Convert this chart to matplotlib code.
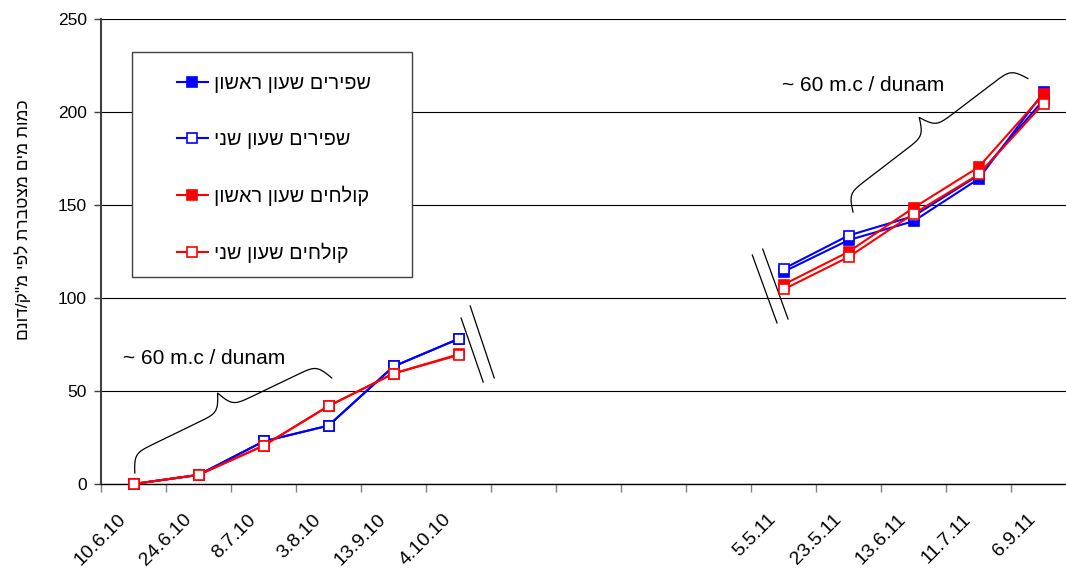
import numpy as np
import matplotlib
matplotlib.use("Agg")
import matplotlib.pyplot as plt
from matplotlib.patches import Rectangle
from matplotlib.lines import Line2D
from matplotlib.transforms import ScaledTranslation

plt.rcParams["font.family"] = ["Liberation Sans", "DejaVu Sans"]

nan = np.nan

# categories (empty slots = gap between the two seasons)
dates = ["10.6.10", "24.6.10", "8.7.10", "3.8.10", "13.9.10", "4.10.10",
         "", "", "", "",
         "5.5.11", "23.5.11", "13.6.11", "11.7.11", "6.9.11"]

# cumulative water, m.c / dunam
shapirim_1 = [0, 4.9, 22.9, 31.4, 63.2, 78.0, nan, nan, nan, nan,
              114.1, 131.1, 141.3, 164.0, 210.5]
shapirim_2 = [0, 4.9, 22.9, 31.4, 63.2, 78.0, nan, nan, nan, nan,
              115.7, 133.6, 144.0, 166.0, 206.5]
kolchim_1 = [0, 4.9, 20.6, 41.9, 59.4, 69.7, nan, nan, nan, nan,
             107.2, 124.8, 148.5, 170.3, 209.5]
kolchim_2 = [0, 4.9, 20.6, 41.9, 59.4, 69.3, nan, nan, nan, nan,
             104.6, 122.0, 145.3, 166.4, 204.5]

series_names = ["שפירים שעון ראשון", "שפירים שעון שני",
                "קולחים שעון ראשון", "קולחים שעון שני"]
ylabel = 'כמות מים מצטברת לפי מ"ק/דונם'
note = "~ 60 m.c / dunam"


def rtl(s):
    # matplotlib has no bidi support: give it the visual order
    return s[::-1]


def brace(ax, p0, p1, h=36, k=0.25, **kw):
    # curly brace between two data points, tip pointing to the upper-left
    a = ax.transData.transform(p0)
    b = ax.transData.transform(p1)
    d = b - a
    L = np.hypot(*d)
    d = d / L
    n = np.array([-d[1], d[0]])
    u = np.linspace(0, L / 2, 200)
    sig = lambda z: 1 / (1 + np.exp(-z))
    v = h * (sig(k * u) - 0.5 + sig(k * (u - L / 2)))
    u = np.concatenate([u, L - u[-2::-1]])
    v = np.concatenate([v, v[-2::-1]])
    pts = a + np.outer(u, d) + np.outer(v, n)
    pts = ax.transData.inverted().transform(pts)
    ax.plot(pts[:, 0], pts[:, 1], color="black", lw=0.9, zorder=4, **kw)


fig = plt.figure(figsize=(10.66, 5.68), dpi=100)
ax = fig.add_axes([101 / 1066, 84 / 568, 975 / 1066, 465 / 568])

x = np.arange(len(dates)) + 0.5
styles = [
    (shapirim_1, "#0000ff", "#0000ff"),
    (shapirim_2, "#0000ff", "white"),
    (kolchim_1, "#ff0000", "#ff0000"),
    (kolchim_2, "#ff0000", "white"),
]
handles = []
for (vals, col, face), name in zip(styles, series_names):
    ln, = ax.plot(x, vals, color=col, lw=1.5, marker="s", ms=6.5,
                  mfc=face, mec=col, mew=1.2, zorder=5, clip_on=False)
    handles.append(ln)

ax.set_xlim(0, len(dates))
ax.set_ylim(0, 250)
ax.set_yticks(np.arange(0, 251, 50))
ax.yaxis.grid(True, color="black", lw=0.8)
ax.set_axisbelow(True)

# tick marks on category boundaries, date labels under category centres
ax.set_xticks(np.arange(len(dates) + 1))
ax.set_xticklabels([])
lab_tr = ax.get_xaxis_transform() + ScaledTranslation(-10 / 100, -33 / 100,
                                                      fig.dpi_scale_trans)
for xi, lab in zip(x, dates):
    ax.text(xi, 0, lab, transform=lab_tr, fontsize=14, rotation=45,
            ha="right", va="center", rotation_mode="anchor")
ax.tick_params(axis="x", which="major", length=6, color="#808080", width=1)
ax.tick_params(axis="y", length=5, width=1, color="#404040", pad=5,
               labelsize=12.5)

for s in ["top", "right"]:
    ax.spines[s].set_visible(False)
ax.spines["left"].set_color("#404040")
ax.spines["left"].set_linewidth(1.5)
ax.spines["bottom"].set_color("black")
ax.spines["bottom"].set_linewidth(1)

fig.text(23 / 1066, 1 - 220 / 568, rtl(ylabel), rotation=90, ha="center",
         va="center", fontsize=12.5)

# annotations
ax.text(0.34, 67.7, note, fontsize=15, ha="left", va="center")
ax.text(10.48, 214.5, note, fontsize=15, ha="left", va="center")
brace(ax, (0.52, 5.9), (3.55, 57.0), h=36)
brace(ax, (11.57, 146.2), (14.26, 218.0), h=35)

# axis break marks
for (x0, y0), (x1, y1) in [((5.54, 89.2), (5.88, 54.8)),
                           ((5.68, 95.7), (6.05, 57.0)),
                           ((10.02, 123.1), (10.40, 86.6)),
                           ((10.18, 126.3), (10.57, 88.7))]:
    ax.add_line(Line2D([x0, x1], [y0, y1], color="black", lw=0.9,
                       zorder=4, clip_on=False))

# legend box
ax.add_patch(Rectangle((31 / 975, 207 / 465), 280 / 975, 225 / 465,
                       transform=ax.transAxes, facecolor="white",
                       edgecolor="#404040", lw=1.0, zorder=6))
leg = ax.legend(handles, [rtl(s) for s in series_names], loc="upper left",
                bbox_to_anchor=(76 / 975, (484 - 74) / 465), frameon=False,
                fontsize=14.3, handlelength=1.55, handletextpad=0.3,
                labelspacing=1.85, borderpad=0, borderaxespad=0)
leg.set_zorder(7)

fig.savefig("out.png", dpi=100)
